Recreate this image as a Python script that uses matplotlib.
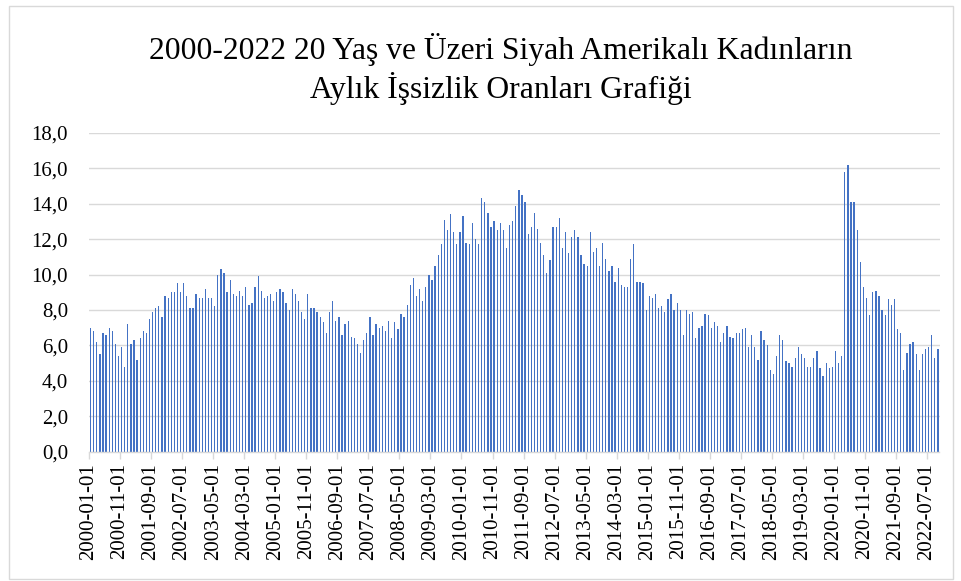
import matplotlib
matplotlib.use("Agg")
import matplotlib.pyplot as plt
from matplotlib.patches import Rectangle
import pandas as pd

title = "2000-2022 20 Yaş ve Üzeri Siyah Amerikalı Kadınların\nAylık İşsizlik Oranları Grafiği"

months = pd.date_range("2000-01-01", "2022-10-01", freq="MS").strftime("%Y-%m-%d").tolist()

rates = [
    7.0, 6.8, 6.2, 5.5, 6.7, 6.6, 7.0, 6.8, 6.1, 5.4, 5.9, 4.8,
    7.2, 6.1, 6.3, 5.2, 6.4, 6.8, 6.7, 7.5, 7.9, 8.1, 8.2, 7.6,
    8.8, 8.7, 9.0, 9.0, 9.5, 9.0, 9.5, 8.8, 8.1, 8.1, 8.9, 8.7,
    8.7, 9.2, 8.7, 8.7, 8.2, 10.0, 10.3, 10.1, 9.0, 9.7, 8.9, 8.8,
    9.1, 8.8, 9.3, 8.3, 8.4, 9.3, 9.9, 9.1, 8.7, 8.8, 8.9, 8.5,
    9.0, 9.2, 9.0, 8.4, 8.0, 9.2, 8.9, 8.5, 7.9, 7.5, 8.9, 8.1,
    8.1, 7.9, 7.6, 7.3, 6.7, 7.9, 8.5, 7.4, 7.6, 6.6, 7.2, 7.4,
    6.5, 6.4, 6.1, 5.6, 6.3, 6.7, 7.6, 6.6, 7.2, 7.0, 7.1, 6.8,
    7.4, 6.4, 7.3, 6.9, 7.8, 7.6, 8.3, 9.4, 9.8, 8.8, 9.2, 8.5,
    9.3, 10.0, 9.7, 10.5, 11.1, 11.7, 13.1, 12.5, 13.4, 12.4, 11.7, 12.4,
    13.3, 11.8, 11.7, 12.9, 12.0, 11.7, 14.3, 14.1, 13.5, 12.7, 13.0, 12.5,
    12.9, 12.5, 11.5, 12.8, 13.0, 13.9, 14.8, 14.5, 14.1, 12.3, 12.7, 13.5,
    12.6, 11.8, 11.1, 10.1, 10.8, 12.7, 12.7, 13.2, 11.5, 12.4, 11.2, 12.1,
    12.5, 12.1, 11.1, 10.6, 10.5, 12.4, 11.3, 11.5, 10.5, 11.8, 10.9, 10.2,
    10.5, 9.6, 10.4, 9.4, 9.3, 9.3, 10.9, 11.7, 9.6, 9.6, 9.5, 8.0,
    8.8, 8.7, 8.9, 8.1, 8.2, 7.9, 8.6, 8.9, 8.0, 8.4, 8.0, 6.6,
    8.0, 7.8, 7.9, 6.4, 7.0, 7.1, 7.8, 7.7, 7.0, 7.3, 7.1, 6.2,
    6.7, 7.1, 6.5, 6.4, 6.7, 6.7, 6.9, 7.0, 5.9, 6.6, 5.9, 5.2,
    6.8, 6.3, 6.0, 4.6, 4.4, 5.4, 6.6, 6.3, 5.1, 5.0, 4.8, 5.3,
    5.9, 5.5, 5.3, 4.8, 4.8, 5.3, 5.7, 4.7, 4.3, 5.0, 4.7, 4.8,
    5.7, 5.0, 5.4, 15.8, 16.2, 14.1, 14.1, 12.5, 10.7, 9.3, 8.7, 7.7,
    9.0, 9.1, 8.8, 8.0, 7.7, 8.6, 8.3, 8.6, 6.9, 6.7, 4.6, 5.6,
    6.1, 6.2, 5.5, 4.6, 5.5, 5.8, 5.9, 6.6, 5.3, 5.8,
]

tick_labels = [
    "2000-01-01", "2000-11-01", "2001-09-01", "2002-07-01", "2003-05-01",
    "2004-03-01", "2005-01-01", "2005-11-01", "2006-09-01", "2007-07-01",
    "2008-05-01", "2009-03-01", "2010-01-01", "2010-11-01", "2011-09-01",
    "2012-07-01", "2013-05-01", "2014-03-01", "2015-01-01", "2015-11-01",
    "2016-09-01", "2017-07-01", "2018-05-01", "2019-03-01", "2020-01-01",
    "2020-11-01", "2021-09-01", "2022-07-01",
]
y_ticks = [0, 2, 4, 6, 8, 10, 12, 14, 16, 18]

plt.rcParams["font.family"] = ["Liberation Serif", "DejaVu Serif"]

W, H = 961, 581
fig = plt.figure(figsize=(W / 100, H / 100), dpi=100)
fig.patch.set_facecolor("white")

# chart border
fig.patches.append(Rectangle((8.5 / W, 1 - 579 / H), (953 - 8.5) / W, (579 - 5.5) / H,
                             transform=fig.transFigure, fill=False,
                             edgecolor="#D9D9D9", linewidth=1.0))

left, right = 89 / W, 939.5 / W
bottom, top = 1 - 451.7 / H, 1 - 132.9 / H
ax = fig.add_axes([left, bottom, right - left, top - bottom])

pos = list(range(len(rates)))
ax.bar(pos, rates, width=0.42, color="#4472C4", zorder=3, linewidth=0)

ax.set_xlim(-0.5, len(rates) - 0.5)
ax.set_ylim(0, 18)

tick_pos = [months.index(t) - 0.5 for t in tick_labels]
ax.set_xticks(tick_pos)
ax.set_xticklabels(tick_labels, rotation=90, fontsize=15)
ax.set_yticks(y_ticks)
ax.set_yticklabels([f"{v:.1f}".replace(".", ",") for v in y_ticks], fontsize=15)

ax.yaxis.grid(True, color="#D9D9D9", linewidth=1.0, zorder=0)
ax.xaxis.grid(False)
for s in ["left", "right", "top"]:
    ax.spines[s].set_visible(False)
ax.spines["bottom"].set_color("#D9D9D9")
ax.spines["bottom"].set_linewidth(1.0)
ax.spines["bottom"].set_zorder(4)
ax.tick_params(axis="y", length=0, pad=15, colors="black")
ax.tick_params(axis="x", length=5, width=1.0, color="#D9D9D9", pad=3, labelcolor="black")

fig.text(501 / W, 1 - 69 / H, title, ha="center", va="center", fontsize=22.8,
         linespacing=1.2, color="black", multialignment="center")

fig.savefig("out.png", dpi=100, facecolor="white")
